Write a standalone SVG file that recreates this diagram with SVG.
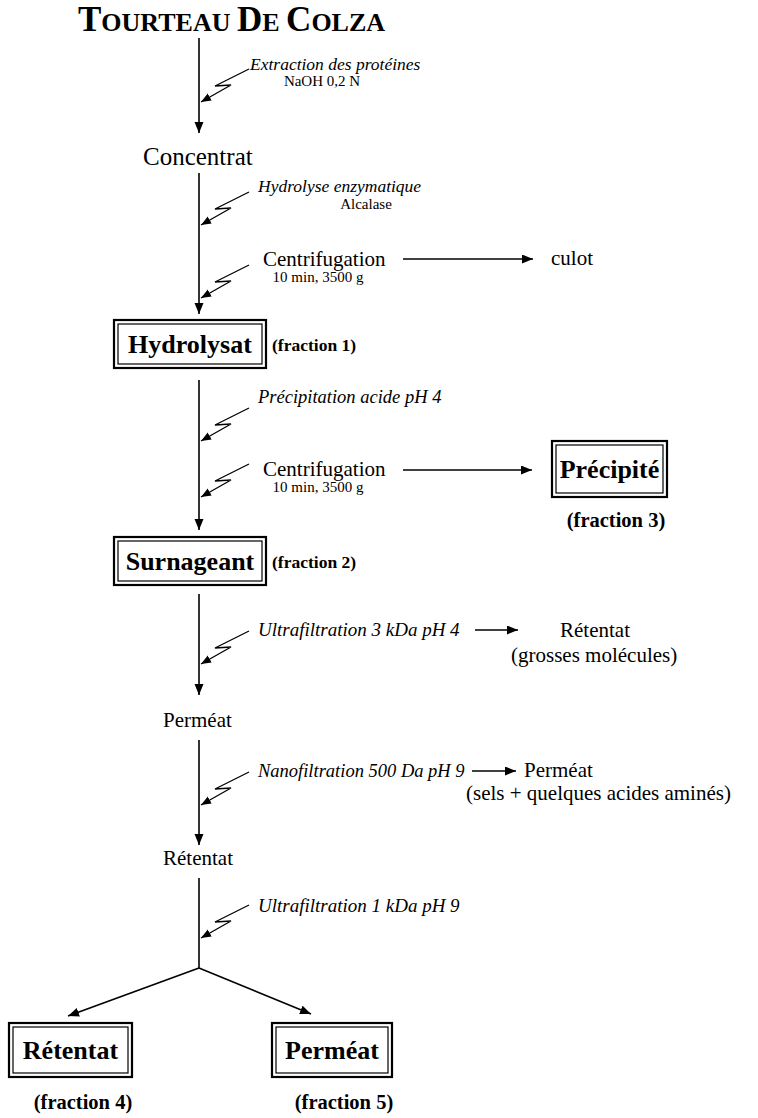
<svg xmlns="http://www.w3.org/2000/svg" width="758" height="1118" viewBox="0 0 758 1118">
<defs>
<style>
.t{font-family:"Liberation Serif",Tinos,"Times New Roman","DejaVu Serif",serif;fill:#000}
.it{font-style:italic;font-size:18.5px}
.rg{font-size:21px}
.sm{font-size:15px}
.bx{font-weight:bold;font-size:26px}
.fr{font-weight:bold;font-size:17.5px}
.fb{font-weight:bold;font-size:20.5px}
.ln{stroke:#000;stroke-width:1.6;fill:none}
.lt{stroke:#000;stroke-width:1.3;fill:none}
.o{fill:#fff;stroke:#000;stroke-width:2.2}
.i{fill:none;stroke:#000;stroke-width:1.2}
</style>
<marker id="ah" markerUnits="userSpaceOnUse" markerWidth="12" markerHeight="10" refX="11" refY="4.5" orient="auto"><path d="M0,0 L11,4.5 L0,9 z" fill="#000"/></marker>
<marker id="lh" markerUnits="userSpaceOnUse" markerWidth="11" markerHeight="9" refX="10" refY="4" orient="auto"><path d="M0,0 L10,4 L0,8 z" fill="#000"/></marker>
</defs>
<rect width="758" height="1118" fill="#fff"/>

<g id="title">
<text class="t" x="78" y="31" font-weight="bold" font-size="35">T<tspan font-size="26">OURTEAU </tspan>D<tspan font-size="26">E </tspan>C<tspan font-size="26">OLZA</tspan></text>
</g>

<g id="connectors">
<line class="ln" x1="199" y1="38" x2="199" y2="133" marker-end="url(#ah)"/>
<line class="ln" x1="199" y1="173" x2="199" y2="314" marker-end="url(#ah)"/>
<line class="ln" x1="199" y1="380" x2="199" y2="530" marker-end="url(#ah)"/>
<line class="ln" x1="199" y1="594" x2="199" y2="695" marker-end="url(#ah)"/>
<line class="ln" x1="199" y1="740" x2="199" y2="845" marker-end="url(#ah)"/>
<line class="ln" x1="199" y1="878" x2="199" y2="968"/>
<line class="ln" x1="199" y1="968" x2="68" y2="1016" marker-end="url(#ah)"/>
<line class="ln" x1="199" y1="968" x2="311" y2="1014" marker-end="url(#ah)"/>
<line class="ln" x1="403" y1="259" x2="533" y2="259" marker-end="url(#ah)"/>
<line class="ln" x1="403" y1="470" x2="532" y2="470" marker-end="url(#ah)"/>
<line class="ln" x1="475" y1="630" x2="518" y2="630" marker-end="url(#ah)"/>
<line class="ln" x1="472" y1="771" x2="516" y2="771" marker-end="url(#ah)"/>
<path class="lt" d="M249,69 L215,86 L231,85 L201,102" marker-end="url(#lh)"/>
<path class="lt" d="M249,192 L215,209 L231,208 L201,225" marker-end="url(#lh)"/>
<path class="lt" d="M249,265 L215,282 L231,281 L201,298" marker-end="url(#lh)"/>
<path class="lt" d="M249,408 L215,425 L231,424 L201,441" marker-end="url(#lh)"/>
<path class="lt" d="M249,464 L215,481 L231,480 L201,497" marker-end="url(#lh)"/>
<path class="lt" d="M249,631 L215,648 L231,647 L201,664" marker-end="url(#lh)"/>
<path class="lt" d="M249,772 L215,789 L231,788 L201,805" marker-end="url(#lh)"/>
<path class="lt" d="M249,905 L215,922 L231,921 L201,938" marker-end="url(#lh)"/>
</g>

<g id="step-extraction">
<text class="t it" x="250" y="70" style="font-size:17.5px">Extraction des protéines</text>
<text class="t sm" x="322" y="86" text-anchor="middle">NaOH 0,2 N</text>
</g>
<g id="concentrat"><text class="t" x="143" y="165" font-size="25">Concentrat</text></g>
<g id="step-hydrolyse">
<text class="t it" x="258" y="192" style="font-size:17.5px">Hydrolyse enzymatique</text>
<text class="t sm" x="366" y="209" text-anchor="middle">Alcalase</text>
</g>
<g id="step-centri1">
<text class="t rg" x="263" y="266">Centrifugation</text>
<text class="t sm" x="318" y="282" text-anchor="middle">10 min, 3500 g</text>
</g>
<g id="culot"><text class="t rg" x="551" y="265">culot</text></g>

<g id="hydrolysat">
<rect class="o" x="114" y="320" width="152" height="48"/>
<rect class="i" x="118" y="324" width="144" height="40"/>
<text class="t bx" x="190" y="353" text-anchor="middle">Hydrolysat</text>
<text class="t fr" x="272" y="351">(fraction 1)</text>
</g>

<g id="step-precip">
<text class="t it" x="258" y="403">Précipitation acide pH 4</text>
</g>
<g id="step-centri2">
<text class="t rg" x="263" y="476">Centrifugation</text>
<text class="t sm" x="318" y="492" text-anchor="middle">10 min, 3500 g</text>
</g>

<g id="precipite">
<rect class="o" x="552" y="441" width="115" height="56"/>
<rect class="i" x="556" y="445" width="107" height="48"/>
<text class="t bx" x="609.5" y="478" text-anchor="middle">Précipité</text>
<text class="t fb" x="616" y="527" text-anchor="middle">(fraction 3)</text>
</g>

<g id="surnageant">
<rect class="o" x="114" y="537" width="152" height="48"/>
<rect class="i" x="118" y="541" width="144" height="40"/>
<text class="t bx" x="190" y="570" text-anchor="middle">Surnageant</text>
<text class="t fr" x="272" y="568">(fraction 2)</text>
</g>

<g id="step-uf3">
<text class="t it" x="258" y="636" style="font-size:19px">Ultrafiltration 3 kDa pH 4</text>
</g>
<g id="retentat-uf3">
<text class="t rg" x="560" y="637">Rétentat</text>
<text class="t rg" x="511" y="662">(grosses molécules)</text>
</g>
<g id="permeat-mid"><text class="t rg" x="163" y="727">Perméat</text></g>

<g id="step-nf">
<text class="t it" x="258" y="777">Nanofiltration 500 Da pH 9</text>
</g>
<g id="permeat-nf">
<text class="t rg" x="524" y="777">Perméat</text>
<text class="t rg" x="466" y="800">(sels + quelques acides aminés)</text>
</g>
<g id="retentat-mid"><text class="t rg" x="163" y="865">Rétentat</text></g>

<g id="step-uf1">
<text class="t it" x="258" y="912" style="font-size:19px">Ultrafiltration 1 kDa pH 9</text>
</g>

<g id="retentat-final">
<rect class="o" x="9" y="1023" width="123" height="54"/>
<rect class="i" x="13" y="1027" width="115" height="46"/>
<text class="t bx" x="70.5" y="1059" text-anchor="middle">Rétentat</text>
<text class="t fb" x="83" y="1109" text-anchor="middle">(fraction 4)</text>
</g>
<g id="permeat-final">
<rect class="o" x="272" y="1023" width="120" height="54"/>
<rect class="i" x="276" y="1027" width="112" height="46"/>
<text class="t bx" x="332" y="1059" text-anchor="middle">Perméat</text>
<text class="t fb" x="344" y="1109" text-anchor="middle">(fraction 5)</text>
</g>
</svg>
